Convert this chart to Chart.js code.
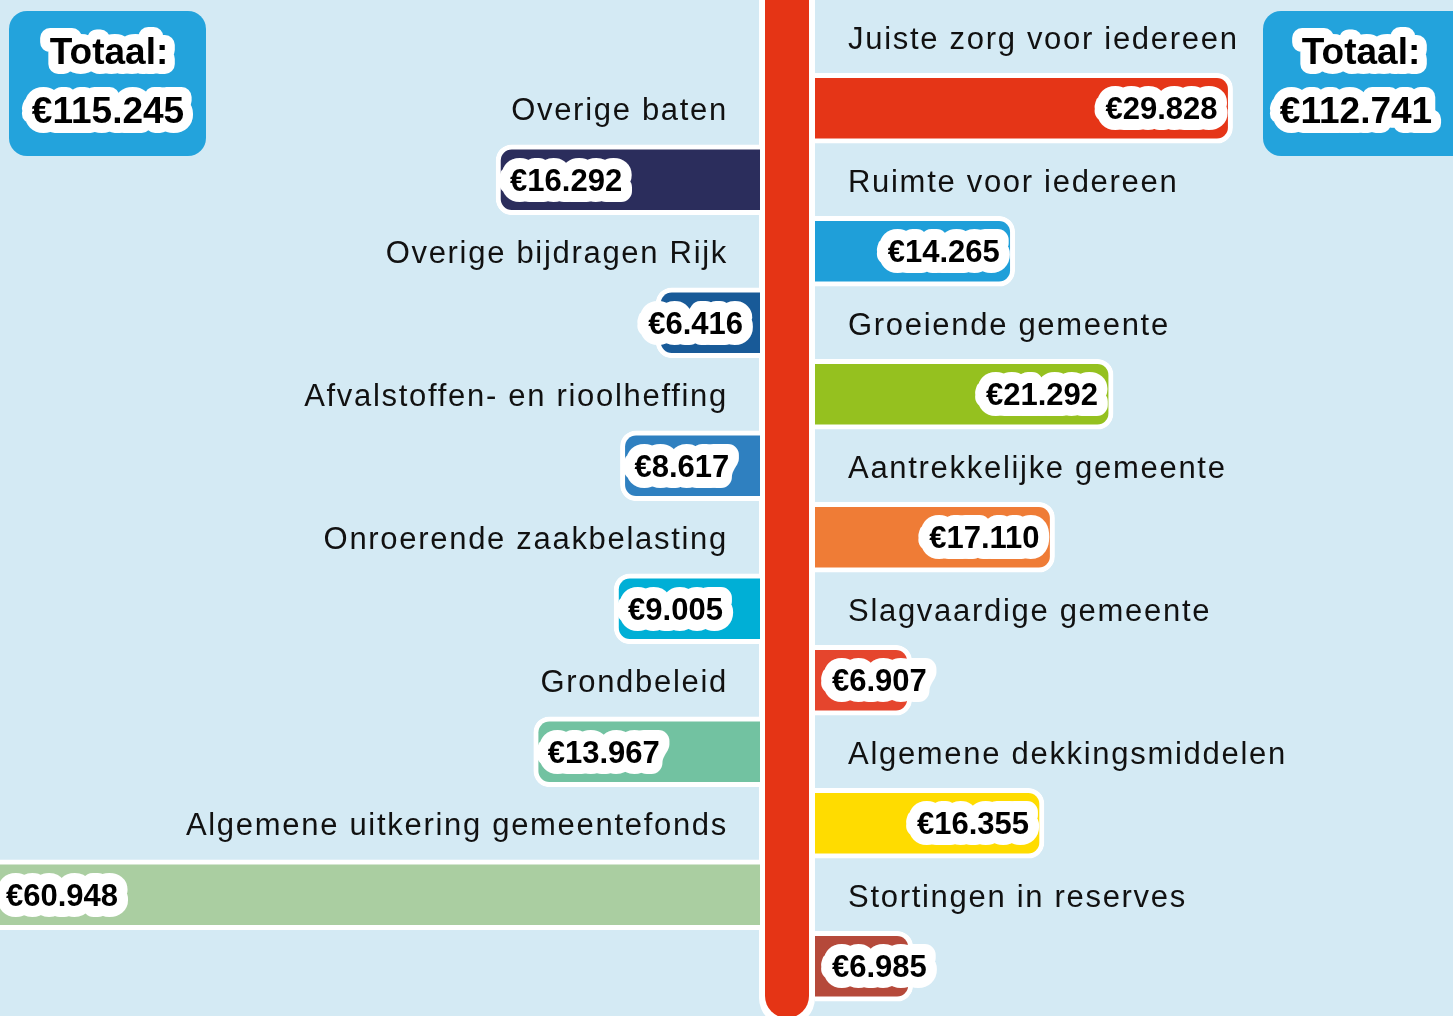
<!DOCTYPE html>
<html lang="nl">
<head>
<meta charset="utf-8">
<title>Baten en lasten</title>
<script src="https://cdn.jsdelivr.net/npm/chart.js@4/dist/chart.umd.min.js"></script>
<style>
  html, body { margin: 0; padding: 0; background: #d4eaf4; }
  #wrap { width: 1453px; height: 1016px; position: relative; }
</style>
</head>
<body>
<div id="wrap"><canvas id="begroting" width="1453" height="1016"></canvas></div>
<script>
// Baten (links), bedragen x €1.000
const batenLabels = [
  "Overige baten",
  "Overige bijdragen Rijk",
  "Afvalstoffen- en rioolheffing",
  "Onroerende zaakbelasting",
  "Grondbeleid",
  "Algemene uitkering gemeentefonds"
];
const batenValues = [16292, 6416, 8617, 9005, 13967, 60948];
const batenColors = ["#2b2d5c", "#185a98", "#2f80c0", "#00afd6", "#72c2a1", "#aacea1"];

// Lasten (rechts)
const lastenLabels = [
  "Juiste zorg voor iedereen",
  "Ruimte voor iedereen",
  "Groeiende gemeente",
  "Aantrekkelijke gemeente",
  "Slagvaardige gemeente",
  "Algemene dekkingsmiddelen",
  "Stortingen in reserves"
];
const lastenValues = [29828, 14265, 21292, 17110, 6907, 16355, 6985];
const lastenColors = ["#e53517", "#1f9fd9", "#95c11f", "#ef7c36", "#e5452d", "#ffdc00", "#b5493a"];

// totalen zoals ze in de kaders staan
const totaalLabel = "Totaal:";
const totaalBaten = "€115.245";
const totaalLasten = "€112.741";

const W = 1453;
const spineLeft = 760;   // nulpunt baten
const spineRight = 815;  // nulpunt lasten
const pxL = 0.0162;
const pxR = 0.014;

const FONT = "'Liberation Sans', Arial, sans-serif";

// 14 rijen: lasten-label, lasten-balk/baten-label, baten-balk/lasten-label, ...
const rows = [];
for (let i = 0; i < 14; i++) rows.push("r" + i);

const leftData = Array(14).fill(null);
const leftColors = Array(14).fill("transparent");
batenValues.forEach((v, j) => { leftData[2 * j + 2] = v; leftColors[2 * j + 2] = batenColors[j]; });

const rightData = Array(14).fill(null);
const rightColors = Array(14).fill("transparent");
lastenValues.forEach((v, i) => { rightData[2 * i + 1] = v; rightColors[2 * i + 1] = lastenColors[i]; });

function euro(n) {
  return "€" + String(n).replace(/\B(?=(\d{3})+(?!\d))/g, ".");
}

function halo(ctx, text, x, y, width) {
  ctx.save();
  ctx.lineJoin = "round";
  ctx.lineCap = "round";
  ctx.strokeStyle = "#fff";
  ctx.lineWidth = width;
  ctx.strokeText(text, x, y);
  ctx.fillStyle = "#000";
  ctx.fillText(text, x, y);
  ctx.restore();
}

const spine = {
  id: "spine",
  beforeDatasetsDraw(chart) {
    const ctx = chart.ctx;
    const l = chart.scales.xL.getPixelForValue(0);
    const r = chart.scales.xR.getPixelForValue(0);
    ctx.save();
    ctx.fillStyle = "#fff";
    ctx.beginPath();
    ctx.roundRect(l - 1, -40, r - l + 1, 1066, 28);
    ctx.fill();
    ctx.fillStyle = "#e53415";
    ctx.beginPath();
    ctx.roundRect(l + 5, -40, r - l - 11, 1058, 22);
    ctx.fill();
    ctx.restore();
  }
};

const texts = {
  id: "texts",
  afterDatasetsDraw(chart) {
    const ctx = chart.ctx;
    const y = chart.scales.y;
    const base0 = chart.scales.xL.getPixelForValue(0);
    const base1 = chart.scales.xR.getPixelForValue(0);

    // categorie-labels
    ctx.save();
    ctx.font = "31px " + FONT;
    ctx.fillStyle = "#111";
    ctx.textBaseline = "alphabetic";
    if ("letterSpacing" in ctx) ctx.letterSpacing = "1.7px";
    ctx.textAlign = "right";
    batenLabels.forEach((t, j) => ctx.fillText(t, base0 - 32, y.getPixelForValue(2 * j + 1) + 12));
    ctx.textAlign = "left";
    lastenLabels.forEach((t, i) => ctx.fillText(t, base1 + 33, y.getPixelForValue(2 * i) + 12));
    ctx.restore();

    // bedragen in de balken
    ctx.save();
    ctx.font = "bold 31px " + FONT;
    ctx.textAlign = "left";
    ctx.textBaseline = "alphabetic";
    const left = chart.getDatasetMeta(0).data;
    batenValues.forEach((v, j) => {
      const bar = left[2 * j + 2];
      const t = euro(v);
      const w = ctx.measureText(t).width;
      let x = Math.min(bar.x + 14, bar.base - 17 - w);
      x = Math.max(x, 6);
      halo(ctx, t, x, bar.y + 11, 22);
    });
    const right = chart.getDatasetMeta(1).data;
    lastenValues.forEach((v, i) => {
      const bar = right[2 * i + 1];
      const t = euro(v);
      const w = ctx.measureText(t).width;
      const xr = Math.max(bar.x - 15, bar.base + 17 + w);
      halo(ctx, t, xr - w, bar.y + 11, 22);
    });
    ctx.restore();

    // totaalkaders
    ctx.save();
    ctx.fillStyle = "#23a3dc";
    ctx.beginPath();
    ctx.roundRect(9, 11, 197, 145, 18);
    ctx.fill();
    ctx.beginPath();
    ctx.roundRect(1263, 11, 215, 145, 18);
    ctx.fill();
    ctx.font = "bold 37px " + FONT;
    ctx.textAlign = "center";
    ctx.textBaseline = "alphabetic";
    halo(ctx, totaalLabel, 109, 64, 20);
    halo(ctx, totaalBaten, 108, 123, 20);
    halo(ctx, totaalLabel, 1361, 64, 20);
    halo(ctx, totaalLasten, 1356, 123, 20);
    ctx.restore();
  }
};

new Chart(document.getElementById("begroting"), {
  type: "bar",
  data: {
    labels: rows,
    datasets: [{
      label: "Baten",
      data: leftData,
      xAxisID: "xL",
      backgroundColor: leftColors,
      borderColor: "#fff",
      borderWidth: 5,
      borderRadius: 16,
      borderSkipped: "start",
      barThickness: 70,
      grouped: false
    }, {
      label: "Lasten",
      data: rightData,
      xAxisID: "xR",
      backgroundColor: rightColors,
      borderColor: "#fff",
      borderWidth: 5,
      borderRadius: 16,
      borderSkipped: "start",
      barThickness: 70,
      grouped: false
    }]
  },
  options: {
    indexAxis: "y",
    responsive: false,
    animation: false,
    layout: { padding: { top: 1, bottom: 14, left: 0, right: 0 } },
    plugins: {
      legend: { display: false },
      tooltip: { enabled: false }
    },
    scales: {
      y: { display: false },
      xL: {
        type: "linear",
        axis: "x",
        position: "bottom",
        reverse: true,
        display: false,
        min: -(W - spineLeft) / pxL,
        max: spineLeft / pxL
      },
      xR: {
        type: "linear",
        axis: "x",
        position: "bottom",
        display: false,
        min: -spineRight / pxR,
        max: (W - spineRight) / pxR
      }
    }
  },
  plugins: [spine, texts]
});
</script>
</body>
</html>
